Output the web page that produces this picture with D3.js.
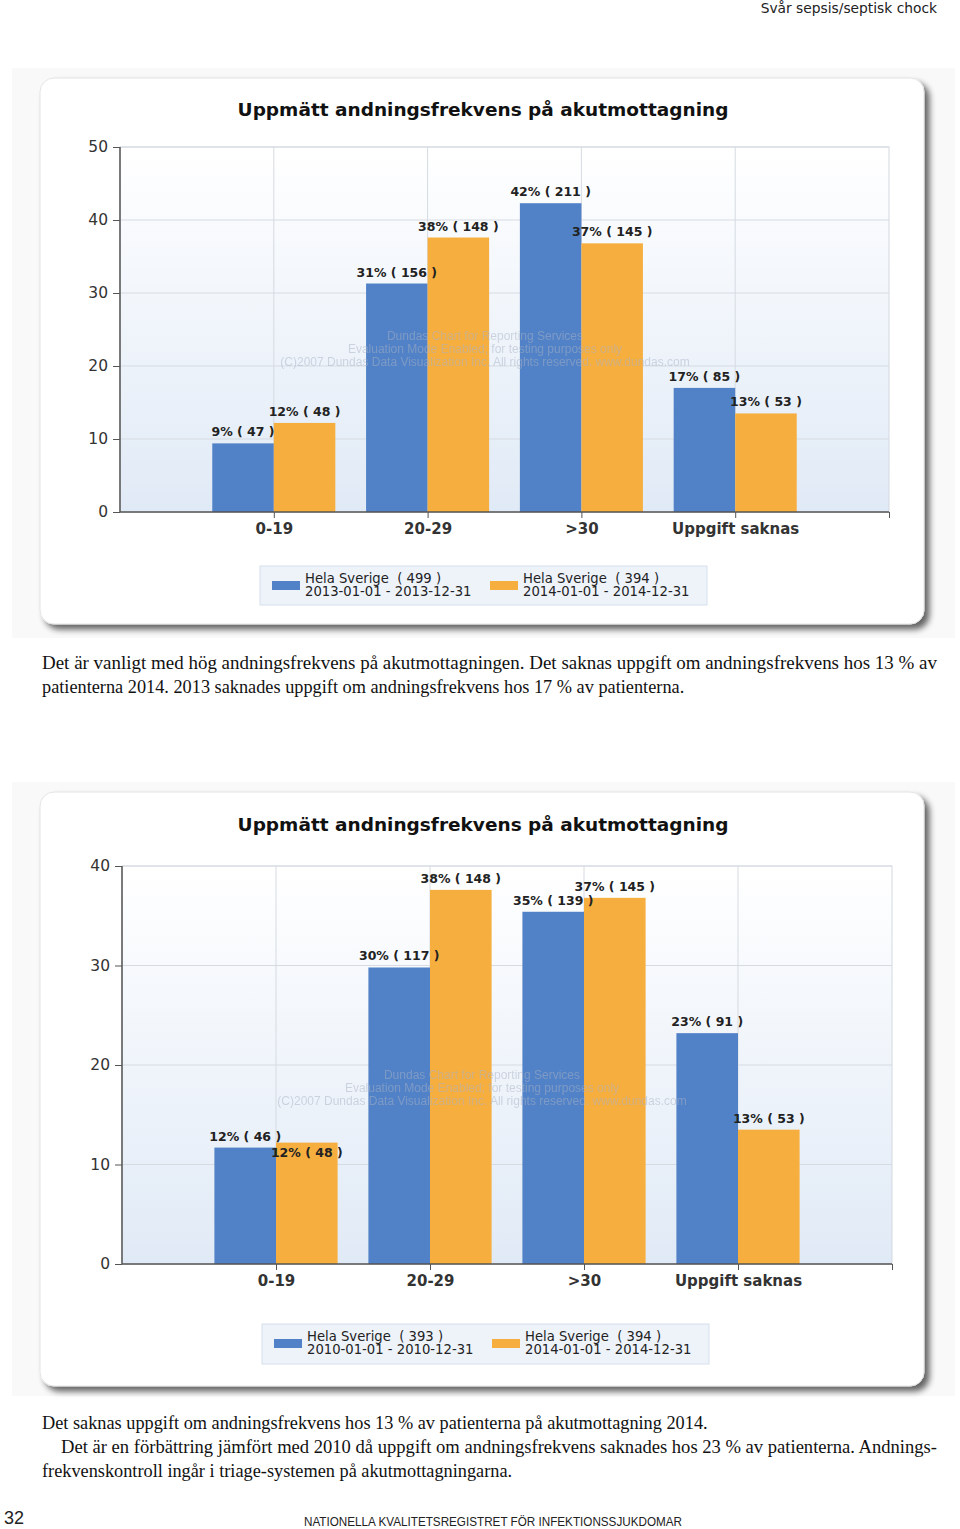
<!DOCTYPE html>
<html>
<head>
<meta charset="utf-8">
<script src="https://cdn.jsdelivr.net/npm/d3@7"></script>
<style>
  body { margin: 0; background: #fff; }
  svg { display: block; }
</style>
</head>
<body>
<script>
// data
var categories = ['0-19', '20-29', '>30', 'Uppgift saknas'];

var values2013 = [9.4, 31.3, 42.3, 17.0];
var pct2013 = [9, 31, 42, 17];
var counts2013 = [47, 156, 211, 85];

var values2014 = [12.2, 37.6, 36.8, 13.5];
var pct2014 = [12, 38, 37, 13];
var counts2014 = [48, 148, 145, 53];

var values2010 = [11.7, 29.8, 35.4, 23.2];
var pct2010 = [12, 30, 35, 23];
var counts2010 = [46, 117, 139, 91];

var yTicks1 = [0, 10, 20, 30, 40, 50];
var yTicks2 = [0, 10, 20, 30, 40];

var legend1 = [['Hela Sverige  ( 499 )', '2013-01-01 - 2013-12-31'], ['Hela Sverige  ( 394 )', '2014-01-01 - 2014-12-31']];
var legend2 = [['Hela Sverige  ( 393 )', '2010-01-01 - 2010-12-31'], ['Hela Sverige  ( 394 )', '2014-01-01 - 2014-12-31']];

var chartTitle = 'Uppmätt andningsfrekvens på akutmottagning';
var watermark = ['Dundas Chart for Reporting Services',
                 'Evaluation Mode Enabled; for testing purposes only',
                 '(C)2007 Dundas Data Visualization Inc. All rights reserved. www.dundas.com'];

var blue = '#5181c6', orange = '#f6ae3f';

var width = 960, height = 1529;

var svg = d3.select('body')
            .append('svg')
            .attr('width', width)
            .attr('height', height);

var defs = svg.append('defs');

var shadow = defs.append('filter').attr('id', 'shadow')
    .attr('x', '-5%').attr('y', '-5%').attr('width', '112%').attr('height', '115%');
shadow.append('feGaussianBlur').attr('in', 'SourceAlpha').attr('stdDeviation', 3);
shadow.append('feOffset').attr('dx', 5).attr('dy', 5).attr('result', 'ob');
shadow.append('feComponentTransfer').append('feFuncA').attr('type', 'linear').attr('slope', 0.6);
var merge = shadow.append('feMerge');
merge.append('feMergeNode');
merge.append('feMergeNode').attr('in', 'SourceGraphic');

var grad = defs.append('linearGradient').attr('id', 'plotbg')
    .attr('x1', 0).attr('y1', 0).attr('x2', 0).attr('y2', 1);
grad.append('stop').attr('offset', '0%').attr('stop-color', '#ffffff');
grad.append('stop').attr('offset', '100%').attr('stop-color', '#e0eaf6');

// page header
svg.append('text')
    .attr('x', 937).attr('y', 13)
    .attr('text-anchor', 'end')
    .style('font-family', 'DejaVu Sans')
    .style('font-size', '13.8px')
    .style('fill', '#222')
    .text('Svår sepsis/septisk chock');

function drawChart(cfg) {
    var g = svg.append('g');

    g.append('rect')
        .attr('x', cfg.bg[0]).attr('y', cfg.bg[1])
        .attr('width', cfg.bg[2]).attr('height', cfg.bg[3])
        .style('fill', '#f9f9f9');

    g.append('rect')
        .attr('x', cfg.panel[0]).attr('y', cfg.panel[1])
        .attr('width', cfg.panel[2]).attr('height', cfg.panel[3])
        .attr('rx', 14).attr('ry', 14)
        .style('fill', '#fff')
        .style('stroke', '#e4e4e4')
        .attr('filter', 'url(#shadow)');

    g.append('text')
        .attr('x', cfg.panel[0] + cfg.panel[2] / 2 + 1)
        .attr('y', cfg.titleY)
        .attr('text-anchor', 'middle')
        .style('font-family', 'DejaVu Sans')
        .style('font-weight', 'bold')
        .style('font-size', '18.5px')
        .style('fill', '#111')
        .text(chartTitle);

    var p = cfg.plot;
    var x = d3.scaleLinear().domain([0, categories.length + 1]).range([p.x0, p.x1]);
    var y = d3.scaleLinear().domain([0, cfg.yMax]).range([p.y1, p.y0]);

    g.append('rect')
        .attr('x', p.x0).attr('y', p.y0)
        .attr('width', p.x1 - p.x0).attr('height', p.y1 - p.y0)
        .style('fill', 'url(#plotbg)')
        .style('stroke', '#d4d9e0');

    // gridlines
    g.append('g').selectAll('line.h')
        .data(cfg.yTicks.slice(1))
        .enter().append('line')
        .attr('x1', p.x0).attr('x2', p.x1)
        .attr('y1', function(d) { return y(d); })
        .attr('y2', function(d) { return y(d); })
        .style('stroke', '#d6dbe2');

    g.append('g').selectAll('line.v')
        .data(categories)
        .enter().append('line')
        .attr('x1', function(d, i) { return x(i + 1); })
        .attr('x2', function(d, i) { return x(i + 1); })
        .attr('y1', p.y0).attr('y2', p.y1)
        .style('stroke', '#d6dbe2');

    var bw = x(0.4) - x(0);
    var bars = g.append('g');

    cfg.series.forEach(function(s, si) {
        bars.selectAll('rect.s' + si)
            .data(s.values)
            .enter().append('rect')
            .attr('x', function(d, i) { return x(i + 1) - (si === 0 ? bw : 0); })
            .attr('y', function(d) { return y(d); })
            .attr('width', bw)
            .attr('height', function(d) { return y(0) - y(d); })
            .style('fill', s.color);
    });

    // evaluation watermark, sits over the bars
    g.append('g').selectAll('text')
        .data(watermark)
        .enter().append('text')
        .attr('x', cfg.wmX)
        .attr('y', function(d, i) { return cfg.wmY + i * 13; })
        .attr('text-anchor', 'middle')
        .style('font-family', 'Liberation Sans')
        .style('font-size', '12px')
        .style('fill', '#a9b3c6')
        .style('opacity', 0.5)
        .text(function(d) { return d; });

    // axes
    var yAxis = d3.axisLeft(y).tickValues(cfg.yTicks).tickSize(7).tickPadding(5);
    var ya = g.append('g').attr('transform', 'translate(' + p.x0 + ',0)').call(yAxis);
    ya.select('.domain').style('stroke', '#555').style('stroke-width', 1.5).attr('d', 'M0,' + p.y0 + 'V' + p.y1);
    ya.selectAll('.tick line').style('stroke', '#555');
    ya.selectAll('.tick text')
        .style('font-family', 'DejaVu Sans')
        .style('font-size', '15.5px')
        .style('fill', '#333');

    var xAxis = d3.axisBottom(x)
        .tickValues(d3.range(1, categories.length + 2))
        .tickSize(6).tickPadding(5)
        .tickFormat(function(d) { return categories[d - 1] || ''; });
    var xa = g.append('g').attr('transform', 'translate(0,' + p.y1 + ')').call(xAxis);
    xa.select('.domain').style('stroke', '#555').style('stroke-width', 1.5).attr('d', 'M' + p.x0 + ',0H' + p.x1);
    xa.selectAll('.tick line').style('stroke', '#555');
    xa.selectAll('.tick text')
        .style('font-family', 'DejaVu Sans')
        .style('font-weight', 'bold')
        .style('font-size', '15px')
        .style('fill', '#333');

    // value labels, second series pushed down when it collides with the first
    var labels = g.append('g');
    categories.forEach(function(c, i) {
        var b0 = y(cfg.series[0].values[i]) - 7;
        var b1 = y(cfg.series[1].values[i]) - 7;
        if (Math.abs(b1 - b0) < 13) b1 = b0 + 16.5;
        [b0, b1].forEach(function(b, si) {
            var s = cfg.series[si];
            labels.append('text')
                .attr('x', x(i + 1) + (si === 0 ? -bw / 2 : bw / 2))
                .attr('y', b)
                .attr('text-anchor', 'middle')
                .style('font-family', 'DejaVu Sans')
                .style('font-weight', 'bold')
                .style('font-size', '12.5px')
                .style('fill', '#222')
                .text(s.pct[i] + '% ( ' + s.counts[i] + ' )');
        });
    });

    // legend
    var L = cfg.legend;
    g.append('rect')
        .attr('x', L.x).attr('y', L.y).attr('width', L.w).attr('height', L.h)
        .style('fill', '#eef3fa')
        .style('stroke', '#d6e0ec');

    cfg.legendText.forEach(function(t, i) {
        var lx = L.x + 12 + i * 218;
        g.append('rect')
            .attr('x', lx).attr('y', L.y + 15)
            .attr('width', 28).attr('height', 9)
            .style('fill', cfg.series[i].color);
        g.append('g').selectAll('text')
            .data(t)
            .enter().append('text')
            .attr('x', lx + 33)
            .attr('y', function(d, j) { return L.y + 17 + j * 12.5; })
            .style('font-family', 'DejaVu Sans')
            .style('font-size', '13.2px')
            .style('white-space', 'pre')
            .style('fill', '#222')
            .text(function(d) { return d; });
    });
}

drawChart({
    bg: [12, 68, 943, 570],
    panel: [40, 78, 884, 546],
    titleY: 116,
    plot: {x0: 120, x1: 889, y0: 147, y1: 512},
    yMax: 50, yTicks: yTicks1,
    wmX: 485, wmY: 340,
    legend: {x: 260, y: 566, w: 447, h: 39},
    legendText: legend1,
    series: [
        {values: values2013, pct: pct2013, counts: counts2013, color: blue},
        {values: values2014, pct: pct2014, counts: counts2014, color: orange}
    ]
});

drawChart({
    bg: [12, 782, 943, 614],
    panel: [40, 792, 884, 594],
    titleY: 831,
    plot: {x0: 122, x1: 892, y0: 866, y1: 1264},
    yMax: 40, yTicks: yTicks2,
    wmX: 482, wmY: 1079,
    legend: {x: 262, y: 1324, w: 447, h: 40},
    legendText: legend2,
    series: [
        {values: values2010, pct: pct2010, counts: counts2010, color: blue},
        {values: values2014, pct: pct2014, counts: counts2014, color: orange}
    ]
});

// body text
var bodyLines = [
    {x: 42, y: 669, t: 'Det är vanligt med hög andningsfrekvens på akutmottagningen. Det saknas uppgift om andningsfrekvens hos 13 % av', len: 895},
    {x: 42, y: 693, t: 'patienterna 2014. 2013 saknades uppgift om andningsfrekvens hos 17 % av patienterna.'},
    {x: 42, y: 1429, t: 'Det saknas uppgift om andningsfrekvens hos 13 % av patienterna på akutmottagning 2014.'},
    {x: 61, y: 1453, t: 'Det är en förbättring jämfört med 2010 då uppgift om andningsfrekvens saknades hos 23 % av patienterna. Andnings-', len: 876},
    {x: 42, y: 1477, t: 'frekvenskontroll ingår i triage-systemen på akutmottagningarna.'}
];

bodyLines.forEach(function(l) {
    var t = svg.append('text')
        .attr('x', l.x).attr('y', l.y)
        .style('font-family', 'Liberation Serif')
        .style('font-size', '18.3px')
        .style('fill', '#111')
        .text(l.t);
    if (l.len) t.attr('textLength', l.len).attr('lengthAdjust', 'spacingAndGlyphs');
});

// footer
svg.append('text')
    .attr('x', 4).attr('y', 1524)
    .style('font-family', 'Liberation Sans')
    .style('font-size', '18px')
    .style('fill', '#222')
    .text('32');

svg.append('text')
    .attr('x', 304).attr('y', 1526)
    .attr('textLength', 378).attr('lengthAdjust', 'spacingAndGlyphs')
    .style('font-family', 'Liberation Sans')
    .style('font-size', '13px')
    .style('fill', '#222')
    .text('NATIONELLA KVALITETSREGISTRET FÖR INFEKTIONSSJUKDOMAR');
</script>
</body>
</html>
